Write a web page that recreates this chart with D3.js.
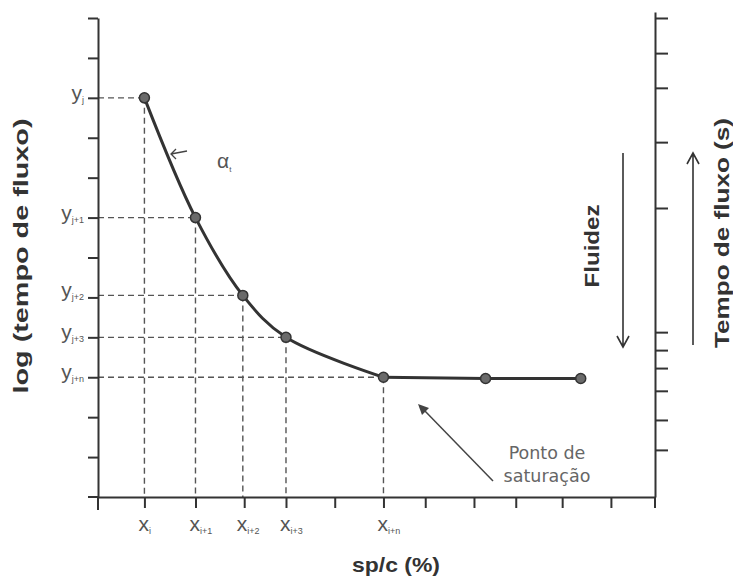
<!DOCTYPE html>
<html><head><meta charset="utf-8">
<script src="https://cdn.jsdelivr.net/npm/d3@7"></script>
<style>
html,body{margin:0;padding:0;background:#fff;}
svg{display:block;font-family:"Liberation Sans",Arial,sans-serif;}
</style></head>
<body><svg id="c" width="733" height="578"></svg>
<script>
// ---- data ----
const xValues = [1, 2.1, 3.12, 4.05, 6.15, 8.35, 10.4];
const yValues = [10, 7, 5.05, 4, 3, 2.97, 2.97];
const xTicks = [1, 2.1, 3.15, 4.05, 5.1, 6.15, 7.05, 8.1, 9, 10, 11.05];
const yTicks = [1,2,3,4,5,6,7,8,9,10,11,12];
const rightTicks = [1.18, 1.93, 2.66, 3.23, 3.68, 4.13, 7.24, 8.89, 10.25, 11.12, 12];
const xLabelIdx = [0,1,2,3,4];
const xLabelSubs = ["i","i+1","i+2","i+3","i+n"];
const yLabelSubs = ["j","j+1","j+2","j+3","j+n"];

const svg = d3.select("#c");
const x = d3.scaleLinear().domain([0,12]).range([98,655]);
const y = d3.scaleLinear().domain([0,12]).range([497,18]);
const axisCol = "#333", labCol = "#555";

// dashed guide lines
const guides = svg.append("g").attr("stroke", labCol).attr("stroke-width",1.4)
  .attr("stroke-dasharray","6,4").attr("fill","none");
xLabelIdx.forEach(i=>{
  guides.append("line").attr("x1",x(0)).attr("x2",x(xValues[i])).attr("y1",y(yValues[i])).attr("y2",y(yValues[i]));
  guides.append("line").attr("x1",x(xValues[i])).attr("x2",x(xValues[i])).attr("y1",y(yValues[i])).attr("y2",y(0));
});

// axes
function styleAxis(g){
  g.selectAll("path,line").attr("stroke",axisCol).attr("stroke-width",2);
  g.selectAll("text").remove();
}
svg.append("g").attr("transform",`translate(${x(0)},0)`)
  .call(d3.axisLeft(y).tickValues(yTicks).tickSize(10).tickSizeOuter(0)).call(styleAxis);
svg.append("g").attr("transform",`translate(0,${y(0)})`)
  .call(d3.axisBottom(x).tickValues(xTicks).tickSize(11).tickSizeOuter(0)).call(styleAxis);
const yR = d3.scaleLinear().domain([0,12.15]).range([497,12]);
svg.append("g").attr("transform",`translate(${x(12)},0)`)
  .call(d3.axisRight(yR).tickValues(rightTicks).tickSize(13).tickSizeOuter(0)).call(styleAxis);
// axis extensions
svg.append("line").attr("x1",x(0)-10).attr("x2",x(0)).attr("y1",y(0)).attr("y2",y(0)).attr("stroke",axisCol).attr("stroke-width",2);
svg.append("line").attr("x1",x(0)).attr("x2",x(0)).attr("y1",y(0)).attr("y2",y(0)+13).attr("stroke",axisCol).attr("stroke-width",2);
svg.append("line").attr("x1",x(12)).attr("x2",x(12)).attr("y1",y(0)).attr("y2",y(0)+11).attr("stroke",axisCol).attr("stroke-width",2);

// y labels
xLabelIdx.forEach((i,k)=>{
  const t = svg.append("text").attr("x",84).attr("y",y(yValues[i])+2).attr("text-anchor","end").attr("fill",labCol);
  t.append("tspan").attr("font-size",21).text("y");
  t.append("tspan").attr("font-size",9).attr("dy",3).text(yLabelSubs[k]);
});
// x labels
xLabelIdx.forEach((i,k)=>{
  const t = svg.append("text").attr("x",x(xValues[i])-6).attr("y",531).attr("fill",labCol);
  t.append("tspan").attr("font-size",21).text("x");
  t.append("tspan").attr("font-size",9).attr("dy",3).text(xLabelSubs[k]);
});

// curve: smooth through the descending part, straight along the saturation plateau
const pts = xValues.map((v,i)=>[x(v),y(yValues[i])]);
const satIdx = 4;
svg.append("path").datum(pts.slice(0, satIdx+1)).attr("fill","none").attr("stroke","#333").attr("stroke-width",3)
  .attr("stroke-linejoin","round").attr("d", d3.line().curve(d3.curveCatmullRom.alpha(0.5)));
svg.append("path").datum(pts.slice(satIdx)).attr("fill","none").attr("stroke","#333").attr("stroke-width",3)
  .attr("d", d3.line());
svg.selectAll("circle.pt").data(pts).join("circle").attr("class","pt")
  .attr("cx",d=>d[0]).attr("cy",d=>d[1]).attr("r",5).attr("fill","#6a6a6a").attr("stroke","#333").attr("stroke-width",1.5);

// alpha annotation
svg.append("path").attr("d","M187,151 L171,154 M176,149 L171,154 L176,159").attr("fill","none").attr("stroke","#444").attr("stroke-width",1.3);
const a = svg.append("text").attr("x",217).attr("y",168).attr("fill",labCol);
a.append("tspan").attr("font-size",21).text("α");
a.append("tspan").attr("font-size",8).attr("dy",4).text("t");

// titles
function title(txt, tr, size, len){
  svg.append("text").attr("transform",tr).attr("text-anchor","middle")
    .attr("font-size",size).attr("font-weight","bold").attr("fill","#333")
    .attr("textLength",len).attr("lengthAdjust","spacingAndGlyphs").text(txt);
}
title("log (tempo de fluxo)", "translate(28,256) rotate(-90)", 21, 275);
title("sp/c (%)", "translate(396,572)", 21, 88);
title("Fluidez", "translate(599,246) rotate(-90)", 20, 83);
title("Tempo de fluxo (s)", "translate(729,233) rotate(-90)", 20, 230);

// side arrows
svg.append("path").attr("d","M623,153 L623,347 M617,336 L623,347 L629,336").attr("fill","none").attr("stroke","#333").attr("stroke-width",1.6);
svg.append("path").attr("d","M693,345 L693,153 M687,164 L693,153 L699,164").attr("fill","none").attr("stroke","#333").attr("stroke-width",1.6);

// saturation annotation
svg.append("line").attr("x1",493).attr("y1",481).attr("x2",424).attr("y2",410).attr("stroke","#444").attr("stroke-width",1.5);
svg.append("path").attr("d","M418,404 L429,408 L422,415 Z").attr("fill","#444");
svg.append("text").attr("x",547).attr("y",459).attr("text-anchor","middle").attr("font-family","'DejaVu Sans',sans-serif").attr("font-size",17.5).attr("fill","#666").text("Ponto de");
svg.append("text").attr("x",547).attr("y",482).attr("text-anchor","middle").attr("font-family","'DejaVu Sans',sans-serif").attr("font-size",17.5).attr("fill","#666").text("saturação");
</script></body></html>
